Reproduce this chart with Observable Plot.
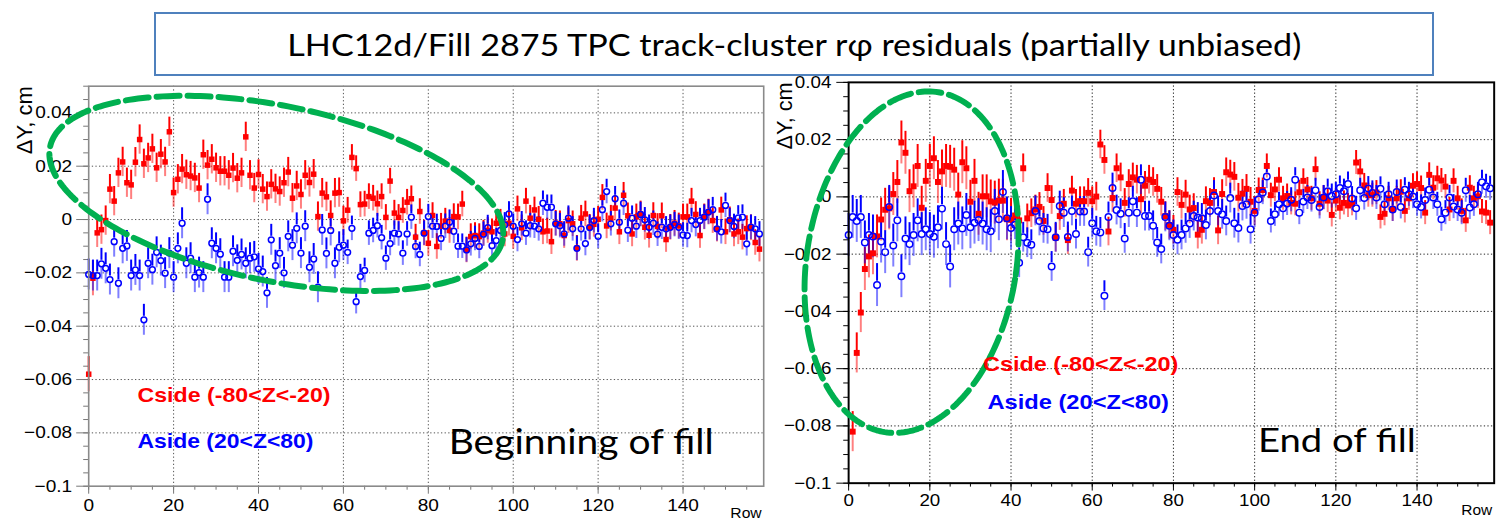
<!DOCTYPE html>
<html><head><meta charset="utf-8">
<script src="https://cdn.jsdelivr.net/npm/d3@7"></script>
<script src="https://cdn.jsdelivr.net/npm/@observablehq/plot@0.6"></script>
<style>
html,body{margin:0;padding:0;background:#fff;overflow:hidden}
#root{position:relative;width:1500px;height:523px;overflow:hidden;background:#fff}
#left{position:absolute;left:0;top:0}
#right{position:absolute;left:770px;top:0}
#title{position:absolute;left:154px;top:12px;width:1276px;height:60px;border:2px solid #4f81bd;background:#fff;display:flex;align-items:center;justify-content:center;font-family:Lato,'Open Sans',sans-serif;font-size:31px;color:#000;white-space:nowrap}
#ttext{display:inline-block;transform-origin:center}
</style></head><body>
<div id="root"><div id="left"></div><div id="right"></div>
<div id="title"><span id="ttext">LHC12d/Fill 2875 TPC track-cluster rφ residuals (partially unbiased)</span></div></div>
<script>
// ---------- data ----------
const rows = d3.range(0, 159);
const xTicks = [0, 20, 40, 60, 80, 100, 120, 140];
const yTicks = [-0.1, -0.08, -0.06, -0.04, -0.02, 0, 0.02, 0.04];

const leftCside = [-0.058,-0.022,-0.005,-0.0038,-0.0004,0.0114,0.0069,0.0175,0.0216,0.0138,
 0.013,0.0215,0.030,0.0209,0.0231,0.0265,0.0194,0.0245,0.0216,0.0329,
 0.0101,0.0151,0.0189,0.0168,0.0163,0.0156,0.0118,0.0243,0.0204,0.0226,
 0.0194,0.0181,0.0181,0.0166,0.0193,0.0155,0.0175,0.031,0.0166,0.0118,
 0.0169,0.0114,0.0086,0.0132,0.0115,0.0105,0.0138,0.0178,0.008,0.0126,
 0.0094,0.0166,0.0139,0.017,0.0011,0.0099,0.0085,0.0015,0.0099,0.0101,
 -0.0005,0.0035,0.0233,0.0191,0.0056,0.0058,0.0086,0.008,0.0059,0.0086,
 0.0008,0.0144,0.0024,0.0008,0.0034,0.0065,0.0078,-0.0066,0.003,-0.0051,
 -0.0089,0.0015,-0.0101,-0.0025,-0.0006,-0.0041,0.0011,0.001,0.0058,-0.0114,
 -0.0064,-0.006,-0.0064,-0.0051,-0.0041,-0.0046,-0.0014,-0.001,-0.0054,-0.0014,
 -0.0063,0.004,-0.0031,0.0069,0.0005,0.0036,0.0001,-0.0046,-0.0043,-0.0083,
 -0.0014,-0.0016,-0.006,-0.0004,-0.0016,-0.0108,0.0005,0.0021,-0.0029,-0.0018,
 0.0001,0.0083,-0.0024,0.0005,0.0043,-0.0046,0.0091,0.0014,-0.0054,0.001,
 0.0021,-0.0029,-0.0059,0.0015,-0.0026,0.0014,-0.0075,-0.0029,-0.0014,-0.0024,
 0.001,0.001,0.0069,0.0019,-0.006,0.001,0.0028,-0.0004,-0.0036,0.0036,
 -0.0046,-0.0001,-0.0054,-0.0046,-0.0066,-0.0034,-0.0031,-0.0086,-0.0111];

const leftAside = [-0.0206,-0.021,-0.021,-0.0166,-0.0183,-0.0225,-0.0083,-0.0239,-0.0108,-0.0099,
 -0.021,-0.0189,-0.021,-0.0376,-0.0164,-0.0188,-0.0123,-0.0154,-0.0201,-0.0126,
 -0.0216,-0.0108,-0.0014,-0.0164,-0.0145,-0.0216,-0.0199,-0.0216,0.0076,-0.0089,
 -0.0108,-0.013,-0.0216,-0.0216,-0.0119,-0.0153,-0.0131,-0.0164,-0.0145,-0.014,
 -0.0185,-0.0195,-0.0275,-0.0076,-0.0173,-0.0126,-0.02,-0.0063,-0.0096,-0.0033,
 -0.0126,-0.0025,-0.0179,-0.0148,-0.0254,-0.0039,-0.0127,-0.0041,-0.0164,-0.0104,
 -0.0096,-0.0123,-0.0033,-0.0308,-0.0214,-0.0191,-0.0051,-0.0041,-0.0023,-0.0068,
 -0.0145,-0.009,-0.0051,-0.0054,-0.0126,-0.0054,0.0009,-0.0101,-0.0131,-0.0051,
 0.0011,-0.0025,-0.0026,-0.0071,-0.0025,-0.001,-0.0044,-0.01,-0.01,-0.0114,
 -0.0091,-0.0071,-0.0101,-0.0055,-0.003,-0.0098,-0.0079,-0.0041,-0.002,0.0021,
 -0.0025,-0.0075,-0.0016,-0.0051,-0.0023,-0.0025,-0.0035,0.0061,0.0046,0.0046,
 -0.0016,-0.0023,-0.0054,0.0005,-0.0035,-0.0108,-0.0035,-0.009,-0.003,-0.0004,
 -0.0063,0.0037,0.0105,-0.0016,0.0078,-0.001,0.0061,-0.004,0.0005,-0.0025,
 0.0019,-0.0001,-0.0029,-0.0014,-0.0055,-0.0029,-0.0035,-0.0029,-0.0019,-0.0029,
 -0.0058,-0.006,-0.0004,-0.0019,-0.0004,0.0009,0.0028,0.0037,-0.0035,-0.0046,
 0.0053,-0.0004,-0.0026,0.0006,0.0009,-0.0091,-0.0029,-0.0035,-0.0054];

const rightCside = [null,-0.082,-0.0545,-0.0404,-0.0252,-0.0208,-0.0197,-0.0138,-0.0079,-0.0045,
 -0.004,0.001,0.0052,0.019,0.0154,0.002,0.0037,0.0108,-0.0038,0.0056,
 0.0108,0.0135,0.0052,0.0089,0.0108,0.0105,0.0095,0.0008,0.0121,0.01,
 -0.0017,0.0056,-0.0059,0.0002,0.0002,-0.0016,-0.002,-0.0013,-0.0013,-0.0078,
 -0.008,-0.0065,-0.0082,0.01,-0.0075,-0.0057,-0.0044,-0.0035,-0.0084,0.0031,
 -0.0011,-0.0143,-0.0067,-0.0024,-0.0151,0.0022,-0.0024,-0.0015,-0.0015,0.0014,
 -0.0015,0.0001,0.0183,0.0129,-0.0121,-0.0004,0.01,0.0068,-0.0021,0.0045,
 0.0068,0.006,-0.0008,0.0039,0.006,0.0052,0.0028,-0.0017,-0.0067,-0.0098,
 -0.0115,0.0017,-0.0028,0.0008,-0.0044,-0.0039,-0.0132,-0.0115,-0.0015,-0.0021,
 0.0017,-0.0117,0.001,0.0086,0.0078,0.007,-0.0003,0.0011,0.0028,-0.0017,
 -0.0049,0.0024,0.0024,0.0108,0.0006,0.0026,0.006,-0.0005,0.0003,-0.0021,
 -0.0024,0.0016,0.0056,0.0026,-0.0005,0.0097,-0.0024,-0.0003,-0.0013,-0.0063,
 -0.0013,-0.0038,-0.0021,-0.003,-0.0024,0.012,0.0089,0.004,0.0006,0.0006,
 0.0015,-0.007,-0.0059,-0.0005,-0.0044,-0.0005,0.0018,-0.0049,-0.0005,0.0039,
 0.0045,0.0031,-0.0055,0.0077,0.0032,0.0065,0.0057,0.0036,-0.0044,0.0056,
 -0.0005,-0.0049,-0.0082,0.0032,-0.0005,0.0002,-0.0051,-0.0055,-0.009];

const rightAside = [-0.0133,-0.007,-0.0084,-0.007,-0.0159,-0.0133,-0.0138,-0.0308,-0.0156,-0.0193,
 -0.0035,-0.017,-0.0082,-0.0277,-0.0145,-0.0165,-0.0133,-0.0082,-0.013,-0.0113,
 -0.013,-0.0139,-0.0106,-0.0041,-0.0165,-0.0243,-0.0113,-0.0093,-0.011,-0.0063,
 -0.0106,-0.009,-0.0081,-0.0093,-0.0113,-0.012,-0.0049,-0.0078,0.0017,-0.0075,
 -0.0109,-0.0097,-0.023,-0.0141,-0.016,-0.0167,-0.0049,-0.0084,-0.011,-0.0113,
 -0.0243,-0.0141,-0.0032,-0.0055,-0.014,-0.0049,-0.013,-0.0051,-0.0051,-0.0193,
 -0.0092,-0.012,-0.0124,-0.0345,-0.007,0.0031,-0.0046,-0.0059,-0.0145,-0.0055,
 -0.0015,-0.0055,0.006,-0.0067,-0.0067,-0.0101,-0.0159,-0.0182,-0.007,-0.0101,
 -0.0133,-0.015,-0.0133,-0.011,-0.0093,-0.0067,-0.0072,-0.0075,-0.0098,-0.0049,
 0.0005,-0.0049,-0.0061,-0.0084,-0.0004,-0.0092,-0.0109,-0.0032,-0.0026,-0.0113,
 -0.0055,-0.0008,0.0015,0.0071,-0.0084,-0.0061,-0.0026,-0.004,-0.0023,-0.001,
 0.006,-0.0055,-0.0016,-0.0002,-0.0011,0.0023,-0.0035,-0.0002,0.002,0.0003,
 0.0009,0.0031,0.002,0.0045,-0.0006,-0.004,0.0023,-0.0004,0.0029,0.0014,
 -0.0002,0.0028,-0.0026,0.0009,-0.0044,0.0017,-0.0035,0.0025,0.0009,0.0001,
 -0.0026,-0.0035,-0.0011,0.0025,-0.0002,-0.0026,-0.0078,-0.0055,-0.0002,-0.0034,
 -0.0044,-0.0055,0.0023,-0.0037,-0.0026,0.0009,0.0051,0.0037,0.003];

// error bar half-widths by row range: [fromRow, toRow, error]
const leftCsideErr = [[0, 1, 0.0066], [2, 60, 0.0055], [61, 158, 0.0048]];
const leftAsideErr = [[0, 60, 0.0058], [61, 158, 0.0046]];
const rightCsideErr = [[0, 3, 0.007], [4, 40, 0.0075], [41, 100, 0.005], [101, 158, 0.0042]];
const rightAsideErr = [[0, 40, 0.0075], [41, 100, 0.0052], [101, 158, 0.0042]];

const legendC = "Cside (-80<Z<-20)";
const legendA = "Aside (20<Z<80)";
const yTitle = "ΔY, cm";
const xTitle = "Row";

// ---------- drawing ----------
const fmtY = d => d === 0 ? "0" : d3.format("")(d);

function makePanel(cfg) {
  const W = cfg.width, H = cfg.height;
  const sx = Plot.scale({x: {domain: cfg.xDomain, range: [cfg.mL, W - cfg.mR]}});
  const sy = Plot.scale({y: {domain: cfg.yDomain, range: [H - cfg.mB, cfg.mT]}});
  const errOf = (ranges, r) => { for (const [a, b, e] of ranges) if (r >= a && r <= b) return e; return 0; };
  const cData = rows.map((r, i) => ({row: r, v: cfg.cside[i], e: errOf(cfg.cErr, r)})).filter(d => d.v != null);
  const aData = rows.map((r, i) => ({row: r, v: cfg.aside[i], e: errOf(cfg.aErr, r)})).filter(d => d.v != null);
  const rr = Math.abs(sy.invert(sy.apply(0) - cfg.blueR - 0.6));
  const aUp = aData.filter(d => d.e > rr).map(d => ({row: d.row, y1: d.v + rr, y2: d.v + d.e}));
  const aDn = aData.filter(d => d.e > rr).map(d => ({row: d.row, y1: d.v - rr, y2: d.v - d.e}));
  const el = cfg.ellipse;
  const ecx = sx.apply(el.row), ecy = sy.apply(el.value), th = el.rotate * Math.PI / 180;
  const ellipsePts = d3.range(0, 241).map(i => {
    const t = 2 * Math.PI * i / 240;
    const ux = el.rx * Math.cos(t), uy = el.ry * Math.sin(t);
    return {x: sx.invert(ecx + ux * Math.cos(th) - uy * Math.sin(th)),
            y: sy.invert(ecy + ux * Math.sin(th) + uy * Math.cos(th))};
  });
  const yMinor = d3.range(0, Math.round((cfg.yDomain[1] - cfg.yDomain[0]) / 0.005) + 1).map(i => +(cfg.yDomain[0] + i * 0.005).toFixed(4));
  const xMinor = d3.range(0, 160, 5);
  const grid = {stroke: cfg.gridColor, strokeOpacity: 1, strokeWidth: 1, strokeDasharray: "1.3,2.3"};
  const svg = Plot.plot({
    width: W, height: H,
    marginLeft: cfg.mL, marginRight: cfg.mR, marginTop: cfg.mT, marginBottom: cfg.mB,
    x: {domain: cfg.xDomain},
    y: {domain: cfg.yDomain},
    style: {fontFamily: "'Liberation Sans', Arial, sans-serif", fontSize: "17px", background: "transparent", overflow: "visible", color: "#000"},
    marks: [
      Plot.gridX(xTicks.filter(t => t > 0), grid),
      Plot.gridY(yTicks.filter(t => t > cfg.yDomain[0] && t < cfg.yDomain[1]), grid),
      Plot.axisY(yMinor, {anchor: "left", tickSize: 5, tickFormat: () => "", label: null, stroke: cfg.tickColor}),
      Plot.axisY(yTicks, {anchor: "left", tickSize: 12, tickPadding: cfg.yPad, tickFormat: fmtY, label: null, stroke: cfg.tickColor, fill: "#000", fontSize: 17}),
      Plot.axisX(xMinor, {anchor: "bottom", tickSize: 4, tickFormat: () => "", label: null, stroke: cfg.tickColor}),
      Plot.axisX(xTicks, {anchor: "bottom", tickSize: 8, tickPadding: cfg.xPad, label: null, stroke: cfg.tickColor, fill: "#000", fontSize: 17}),
      // error bars: upper half saturated, lower half lighter (as in the original raster)
      Plot.ruleX(cData, {x: "row", y1: "v", y2: d => d.v + d.e, stroke: "#ff0000", strokeWidth: 2}),
      Plot.ruleX(cData, {x: "row", y1: d => d.v - d.e, y2: "v", stroke: "#ff0000", strokeWidth: 2, strokeOpacity: 0.5}),
      Plot.ruleX(aUp, {x: "row", y1: "y1", y2: "y2", stroke: "#0000ff", strokeWidth: 2}),
      Plot.ruleX(aDn, {x: "row", y1: "y1", y2: "y2", stroke: "#0000ff", strokeWidth: 2, strokeOpacity: 0.5}),
      Plot.dot(cData, {x: "row", y: "v", symbol: "square", r: cfg.redR, fill: "#ff0000", stroke: "none"}),
      Plot.dot(aData, {x: "row", y: "v", r: cfg.blueR, fill: "none", stroke: "#0000ff", strokeWidth: 1.5}),
      Plot.frame({stroke: cfg.frameColor, strokeWidth: cfg.frameWidth}),
      Plot.line(ellipsePts, {x: "x", y: "y", stroke: "#00b050", strokeWidth: 6, strokeDasharray: "23,8", curve: "linear"}),
      Plot.text([yTitle], {text: d => d, frameAnchor: "top-left", dx: cfg.yTitleDx, rotate: -90, textAnchor: "end", lineAnchor: "bottom", fontSize: 22, fill: "#000"}),
      Plot.text([xTitle], {text: d => d, frameAnchor: "bottom-right", dx: -2, dy: cfg.xTitleDy, textAnchor: "end", lineAnchor: "bottom", fontSize: 14, fill: "#000"}),
      Plot.text(cfg.labels, {x: "row", y: "value", text: "text", fill: "color", textAnchor: "start", lineAnchor: "bottom", fontWeight: "bold", fontSize: 21}),
      Plot.text([cfg.note], {x: "row", y: "value", text: "text", textAnchor: "start", lineAnchor: "bottom", fontFamily: "Lato, 'Open Sans', sans-serif", fontSize: 34, fill: "#000"})
    ]
  });
  document.getElementById(cfg.id).appendChild(svg);
  // ROOT canvas text was horizontally stretched in the original slide
  svg.querySelectorAll("text").forEach(t => {
    const s = t.textContent;
    if (!s) return;
    const L = t.getComputedTextLength();
    const target = cfg.fit[s] != null ? cfg.fit[s] : (s === yTitle ? L : L * 1.12);
    t.setAttribute("textLength", target);
    t.setAttribute("lengthAdjust", "spacingAndGlyphs");
  });
}

makePanel({
  id: "left", width: 770, height: 523, mL: 88.2, mR: 6.8, mT: 85.7, mB: 37.3,
  xDomain: [0, 159], yDomain: [-0.1, 0.05],
  cside: leftCside, aside: leftAside, cErr: leftCsideErr, aErr: leftAsideErr,
  gridColor: "#555", tickColor: "#777", frameColor: "#8a8a8a", frameWidth: 1.6,
  redR: 3.1, blueR: 2.9,
  yPad: 4.5, xPad: 4.5, yTitleDx: -57, xTitleDy: 32,
  ellipse: {row: 44.2, value: 0.0098, rx: 231, ry: 87.6, rotate: 11.6},
  labels: [{row: 11.5, value: -0.0683, text: legendC, color: "#ff0000"},
           {row: 11.5, value: -0.0855, text: legendA, color: "#0000ff"}],
  note: {row: 84.8, value: -0.0881, text: "Beginning of fill"},
  fit: {[legendC]: 193, [legendA]: 176, "Beginning of fill": 265}
});

makePanel({
  id: "right", width: 740, height: 523, mL: 79.2, mR: 6.4, mT: 83, mB: 33.7,
  xDomain: [0, 159], yDomain: [-0.1, 0.04],
  cside: rightCside, aside: rightAside, cErr: rightCsideErr, aErr: rightAsideErr,
  gridColor: "#222", tickColor: "#000", frameColor: "#000", frameWidth: 2,
  redR: 3.4, blueR: 3.3,
  yPad: 5.5, xPad: 3, yTitleDx: -57.5, xTitleDy: 32.5,
  ellipse: {row: 15.5, value: -0.0228, rx: 106.3, ry: 174.4, rotate: 9},
  labels: [{row: 33.1, value: -0.0607, text: legendC, color: "#ff0000"},
           {row: 34.2, value: -0.0742, text: legendA, color: "#0000ff"}],
  note: {row: 100.8, value: -0.089, text: "End of fill"},
  fit: {[legendC]: 198, [legendA]: 184, "End of fill": 160}
});

const tt = document.getElementById("ttext");
const tw = tt.getBoundingClientRect().width;
tt.style.transform = `scaleX(${1014 / tw})`;
</script>
</body></html>
